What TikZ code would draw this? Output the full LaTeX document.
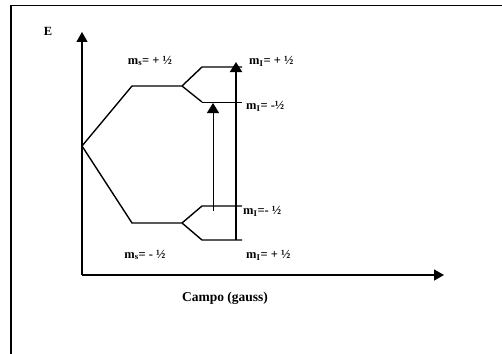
\documentclass[tikz,border=0pt]{standalone}
\usepackage{fontspec}
\setmainfont{Liberation Serif}
\usetikzlibrary{arrows.meta}
\begin{document}
\begin{tikzpicture}[
    x=1pt, y=-1pt,
    font=\bfseries\fontsize{12.5}{14}\selectfont,
    marco/.style={line width=1.5pt},
    eje/.style={line width=1.3pt, -{Triangle[length=10pt, width=11pt]}},
    nivel/.style={line width=1.4pt, line join=miter},
    nivelfino/.style={line width=1pt},
    transfina/.style={line width=1pt, -{Triangle[length=10pt, width=12pt]}},
    transgruesa/.style={line width=2pt, -{Triangle[length=10pt, width=12pt]}},
    etiq/.style={inner sep=0pt, anchor=west}
  ]
  \clip (0,0) rectangle (502,353);

  % --- marco ---
  \draw[marco] (11,400) -- (11,5.5) -- (520,5.5);

  % --- ejes ---
  \coordinate (origen) at (82,275);
  \coordinate (ejeY)   at (82,32);
  \coordinate (ejeX)   at (444,275);
  \draw[eje] (origen) -- (ejeY);
  \draw[eje] (origen) -- (ejeX);
  \node (lblE) at (48,31) {E};
  \node[font=\bfseries\fontsize{13.5}{15}\selectfont] (lblCampo) at (225,298) {Campo (gauss)};

  % --- niveles: m_s = +1/2 ---
  \coordinate (centro) at (82,146);
  \coordinate (sA1) at (132,86);  \coordinate (sA2) at (182,86);
  \coordinate (iA1) at (202,67);  \coordinate (iA2) at (242,67);
  \coordinate (iA3) at (202,102); \coordinate (iA4) at (242,102);
  \draw[nivel] (centro) -- (sA1) -- (sA2) -- (iA1) -- (iA2);
  \draw[nivel] (sA2) -- (iA3);
  \draw[nivelfino] (iA3) -- (iA4);

  % --- niveles: m_s = -1/2 ---
  \coordinate (sB1) at (132,223); \coordinate (sB2) at (182,223);
  \coordinate (iB1) at (202,206); \coordinate (iB2) at (242,206);
  \coordinate (iB3) at (202,240); \coordinate (iB4) at (242,240);
  \draw[nivel] (centro) -- (sB1) -- (sB2) -- (iB1) -- (iB2);
  \draw[nivel] (sB2) -- (iB3) -- (iB4);

  % --- transiciones ---
  \coordinate (t1ini) at (213,211); \coordinate (t1fin) at (213,103);
  \coordinate (t2ini) at (236,240); \coordinate (t2fin) at (236,62);
  \draw[transfina]   (t1ini) -- (t1fin);
  \draw[transgruesa] (t2ini) -- (t2fin);

  % --- rótulos ---
  \node (msMas)   at (150,61)  {m\textsubscript{s}= + ½};
  \node (msMenos) at (145,255) {m\textsubscript{s}= - ½};
  \node[etiq] (miA1) at (249,61)  {m\textsubscript{I}= + ½};
  \node[etiq] (miA2) at (246,106) {m\textsubscript{I}= -½};
  \node[etiq] (miB1) at (243,211) {m\textsubscript{I}=- ½};
  \node[etiq] (miB2) at (246,255) {m\textsubscript{I}= + ½};
\end{tikzpicture}
\end{document}
